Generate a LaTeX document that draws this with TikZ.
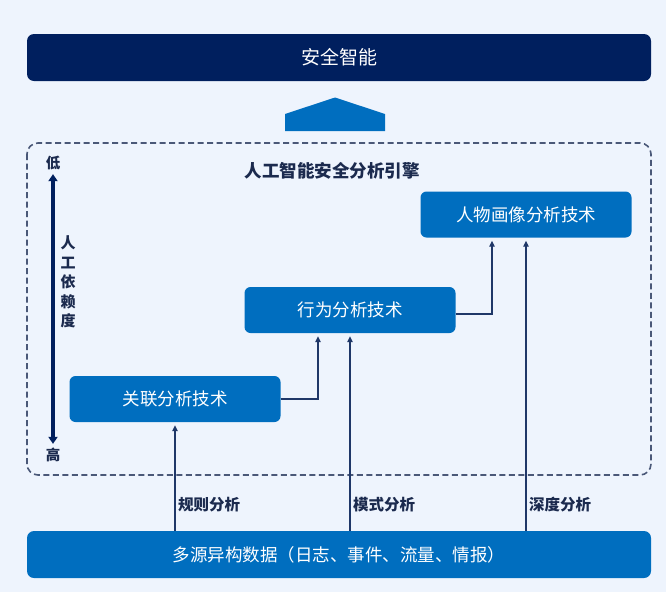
\documentclass[tikz,border=0pt]{standalone}
\usepackage{fontspec}
\setmainfont{Noto Sans CJK SC}
\usetikzlibrary{arrows.meta,positioning}

\definecolor{pagebg}{HTML}{EEF4FD}
\definecolor{navy}{HTML}{001F5E}
\definecolor{techblue}{HTML}{006EBF}
\definecolor{linknavy}{HTML}{1F3768}
\definecolor{inktext}{HTML}{1B2A4E}
\definecolor{framegray}{HTML}{4A5878}

\begin{document}
\begin{tikzpicture}[x=1pt,y=-1pt,
    techbox/.style={rounded corners=6pt, fill=techblue, text=white,
        minimum width=211pt, minimum height=46pt,
        font=\fontsize{17.5}{20}\selectfont},
    wide/.style={rounded corners=7pt, text=white,
        minimum width=624pt, minimum height=47pt,
        font=\fontsize{17.5}{20}\selectfont},
    link/.style={draw=linknavy, line width=1.3pt,
        -{Triangle[length=6pt,width=5.5pt]}, shorten >=3pt},
    tag/.style={anchor=west, text=inktext, inner sep=0pt,
        font=\bfseries\fontsize{15.5}{18}\selectfont}]

    % Background and margins
    \fill[pagebg] (0,0) rectangle (666,592);
    \useasboundingbox (0,0) rectangle (666,592);

    % Top goal
    \node[wide, fill=navy, font=\fontsize{19}{22}\selectfont] (goal) at (339,57.5) {安全智能};

    % Big up arrow
    \fill[techblue] (285,131) -- (285,114) -- (335,97.5) -- (385,114) -- (385,131) -- cycle;

    % Engine frame
    \draw[draw=framegray, line width=1.6pt, dash pattern=on 6pt off 3.5pt,
        rounded corners=11pt] (27,143) rectangle (651,475);
    \node[text=inktext, font=\bfseries\fontsize{17.5}{20}\selectfont] (engine) at (332,171) {人工智能安全分析引擎};

    % Axis of manual dependence
    \node[text=inktext, inner sep=1pt, font=\bfseries\fontsize{14.5}{16}\selectfont] (low) at (53,163) {低};
    \node[text=inktext, inner sep=1pt, font=\bfseries\fontsize{14.5}{16}\selectfont] (high) at (53,455) {高};
    \draw[draw=navy, line width=3.5pt, {Triangle[length=7pt,width=9pt]}-{Triangle[length=7pt,width=9pt]},
        shorten <=3pt, shorten >=3pt] (low.south) -- (high.north);
    \node[text=inktext, align=center, inner sep=0pt,
        font=\bfseries\fontsize{15}{19.5}\selectfont] (dep) at (68,282) {人\\工\\依\\赖\\度};

    % Technique boxes
    \node[techbox] (assoc) at (175,399) {关联分析技术};
    \node[techbox] (behav) at (350,310) {行为分析技术};
    \node[techbox] (profile) at (526,214.5) {人物画像分析技术};

    % Data source
    \node[wide, fill=techblue] (data) at (339,554.5) {多源异构数据（日志、事件、流量、情报）};

    % Links from the data
    \draw[link] (data.north -| assoc.south) -- (assoc.south);
    \draw[link] (data.north -| behav.south) -- (behav.south);
    \draw[link] (data.north -| profile.south) -- (profile.south);
    \node[tag] (rule) at (178,505) {规则分析};
    \node[tag] (pattern) at (353,505) {模式分析};
    \node[tag] (deep) at (529,505) {深度分析};

    % Links between techniques
    \draw[link] (assoc.east) -| ([xshift=-32pt]behav.south);
    \draw[link] ([yshift=-4pt]behav.east) -| ([xshift=-34pt]profile.south);
\end{tikzpicture}
\end{document}
